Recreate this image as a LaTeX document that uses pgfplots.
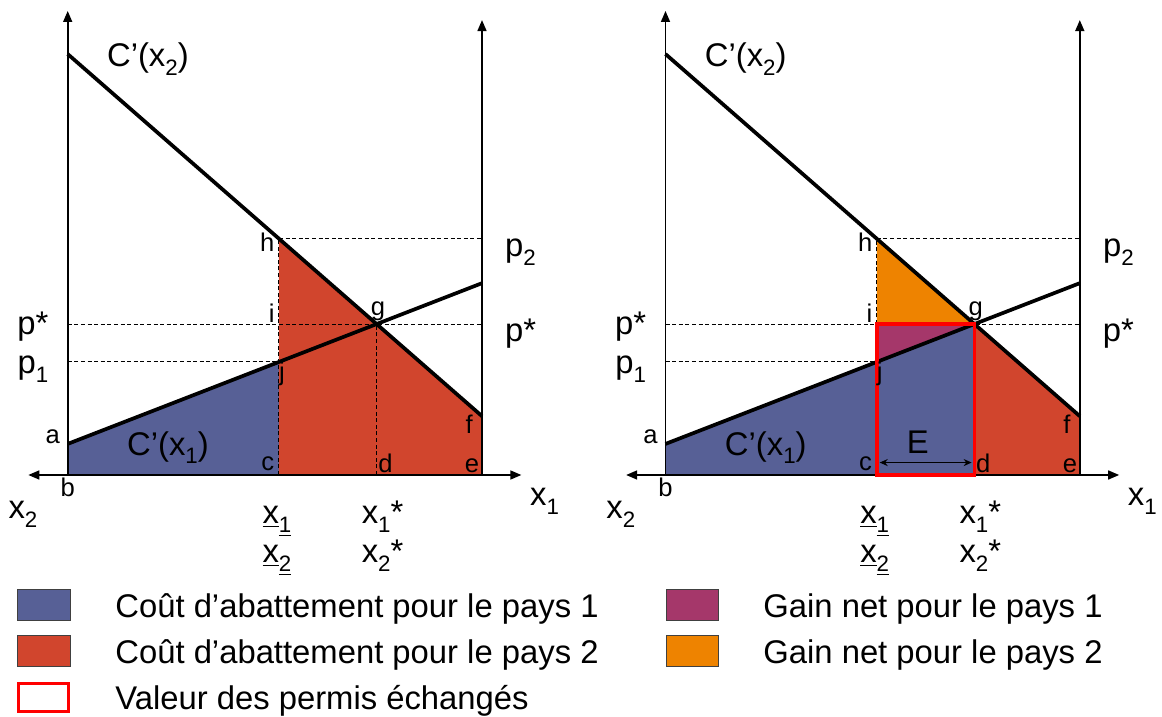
\documentclass[border=0pt]{standalone}
\usepackage{pgfplots}
\pgfplotsset{compat=1.18}
\usepackage{graphicx}
\usepackage{fontspec}
\setmainfont{Liberation Sans}
\usetikzlibrary{arrows.meta}
\definecolor{cblue}{RGB}{87,96,150}
\definecolor{cred}{RGB}{209,69,45}
\definecolor{corange}{RGB}{238,131,0}
\definecolor{cpurple}{RGB}{165,55,106}
\newcommand{\bigf}{\fontsize{16.4}{19}\selectfont}
\newcommand{\smlf}{\fontsize{12.8}{15}\selectfont}
\newcommand{\sub}[1]{\raisebox{-0.27em}{\scalebox{0.68}{#1}}}
\pgfplotsset{
  panel/.style={x=20.715pt,y=20.715pt,xmin=0,xmax=10,ymin=0,ymax=11.2,
    hide axis,clip=false,enlargelimits=false,anchor=south west},
  curve/.style={black,line width=1.85pt},
  dash/.style={black,line width=0.5pt,dash pattern=on 2pt off 1.3pt},
  ax/.style={black,line width=0.8pt},
}
\newcommand{\commonlabels}{%
  \node[font=\bigf,anchor=base west] at (axis cs:0.78,9.85) {C’(x\sub{2})};
  \node[font=\bigf,anchor=base] at (axis cs:2.42,0.48) {C’(x\sub{1})};
  \node[font=\bigf,anchor=base] at (axis cs:-0.84,3.38) {p*};
  \node[font=\bigf,anchor=base] at (axis cs:-0.84,2.44) {p\sub{1}};
  \node[font=\bigf,anchor=base] at (axis cs:10.93,5.27) {p\sub{2}};
  \node[font=\bigf,anchor=base] at (axis cs:10.93,3.23) {p*};
  \node[font=\bigf,anchor=base] at (axis cs:-1.08,-1.05) {x\sub{2}};
  \node[font=\bigf,anchor=base] at (axis cs:11.51,-0.74) {x\sub{1}};
  \node[font=\bigf,anchor=base] at (axis cs:5.05,-1.18) {\underline{x}\underline{\sub{1}}};
  \node[font=\bigf,anchor=base] at (axis cs:5.05,-2.12) {\underline{x}\underline{\sub{2}}};
  \node[font=\bigf,anchor=base] at (axis cs:7.6,-1.18) {x\sub{1}*};
  \node[font=\bigf,anchor=base] at (axis cs:7.6,-2.12) {x\sub{2}*};
  \node[font=\smlf,anchor=base east,inner sep=0pt] at (axis cs:5.0,5.39) {h};
  \node[font=\smlf,anchor=base east,inner sep=0pt] at (axis cs:5.0,3.67) {i};
  \node[font=\smlf,anchor=base] at (axis cs:7.49,3.85) {g};
  \node[font=\smlf,anchor=base] at (axis cs:5.17,2.29) {j};
  \node[font=\smlf,anchor=base] at (axis cs:-0.36,0.77) {a};
  \node[font=\smlf,anchor=base] at (axis cs:0,-0.52) {b};
  \node[font=\smlf,anchor=base] at (axis cs:4.83,0.1) {c};
  \node[font=\smlf,anchor=base] at (axis cs:7.67,0.07) {d};
  \node[font=\smlf,anchor=base] at (axis cs:9.76,0.07) {e};
  \node[font=\smlf,anchor=base] at (axis cs:9.69,1.01) {f};
}
\newcommand{\axeslines}{%
  \addplot[ax,-{Triangle[length=5.5pt,width=4.5pt]}] coordinates {(0,0) (0,11.2)};
  \addplot[ax,-{Triangle[length=5.5pt,width=4.5pt]}] coordinates {(10,0) (10,10.98)};
  \addplot[ax,{Triangle[length=5.5pt,width=4.5pt]}-{Triangle[length=5.5pt,width=4.5pt]}] coordinates {(-0.95,0) (10.95,0)};
}
\begin{document}
\begin{tikzpicture}
\useasboundingbox (0,0) rectangle (581pt,358.5pt);
% ---------- left panel ----------
\begin{axis}[panel,at={(33.85pt,121pt)}]
\addplot[fill=cblue,draw=none] coordinates {(0,0) (0,0.75) (5.1,2.729) (5.1,0)} -- cycle;
\addplot[fill=cred,draw=none] coordinates {(5.1,0) (5.1,5.703) (10,1.42) (10,0)} -- cycle;
\addplot[dash] coordinates {(5.1,5.703) (10,5.703)};
\addplot[dash] coordinates {(0,3.643) (10,3.643)};
\addplot[dash] coordinates {(0,2.729) (5.1,2.729)};
\addplot[dash] coordinates {(5.1,0) (5.1,5.703)};
\addplot[dash] coordinates {(7.457,0) (7.457,3.643)};
\axeslines
\addplot[curve] coordinates {(0,10.16) (10,1.42)};
\addplot[curve] coordinates {(0,0.75) (10,4.63)};
\commonlabels
\end{axis}
% ---------- right panel ----------
\begin{axis}[panel,at={(332.75pt,121pt)}]
\addplot[fill=cblue,draw=none] coordinates {(0,0) (0,0.75) (7.457,3.643) (7.457,0)} -- cycle;
\addplot[fill=cpurple,draw=none] coordinates {(5.1,2.729) (5.1,3.643) (7.457,3.643)} -- cycle;
\addplot[fill=corange,draw=none] coordinates {(5.1,3.643) (5.1,5.703) (7.457,3.643)} -- cycle;
\addplot[fill=cred,draw=none] coordinates {(7.457,0) (7.457,3.643) (10,1.42) (10,0)} -- cycle;
\addplot[dash] coordinates {(5.1,5.703) (10,5.703)};
\addplot[dash] coordinates {(0,3.643) (10,3.643)};
\addplot[dash] coordinates {(0,2.729) (5.1,2.729)};
\addplot[dash] coordinates {(5.1,3.643) (5.1,5.703)};
\axeslines
\addplot[curve] coordinates {(0,10.16) (10,1.42)};
\addplot[curve] coordinates {(0,0.75) (10,4.63)};
\addplot[red,line width=1.8pt] coordinates {(5.1,0) (5.1,3.643) (7.457,3.643) (7.457,0)} -- cycle;
\addplot[black,line width=0.7pt,{Stealth[length=4pt,width=3.5pt]}-{Stealth[length=4pt,width=3.5pt]}] coordinates {(5.17,0.30) (7.39,0.30)};
\node[font=\bigf,anchor=base] at (axis cs:6.09,0.53) {E};
\commonlabels
\end{axis}
% ---------- legend ----------
\begin{scope}[font=\bigf]
\filldraw[fill=cblue,draw=black!75,line width=0.5pt] (8.5pt,48pt) rectangle (35pt,63.5pt);
\filldraw[fill=cred,draw=black!75,line width=0.5pt] (8.5pt,25pt) rectangle (35pt,40.5pt);
\draw[red,line width=1.5pt] (9.25pt,2.75pt) rectangle (34.25pt,16.75pt);
\node[anchor=base west,inner sep=0pt] at (57.5pt,49.5pt) {Coût d’abattement pour le pays 1};
\node[anchor=base west,inner sep=0pt] at (57.5pt,26.5pt) {Coût d’abattement pour le pays 2};
\node[anchor=base west,inner sep=0pt] at (57.5pt,3.5pt) {Valeur des permis échangés};
\filldraw[fill=cpurple,draw=black!75,line width=0.5pt] (333pt,48pt) rectangle (359pt,63.5pt);
\filldraw[fill=corange,draw=black!75,line width=0.5pt] (333pt,25pt) rectangle (359pt,40.5pt);
\node[anchor=base west,inner sep=0pt] at (381.5pt,49.5pt) {Gain net pour le pays 1};
\node[anchor=base west,inner sep=0pt] at (381.5pt,26.5pt) {Gain net pour le pays 2};
\end{scope}
\end{tikzpicture}
\end{document}
